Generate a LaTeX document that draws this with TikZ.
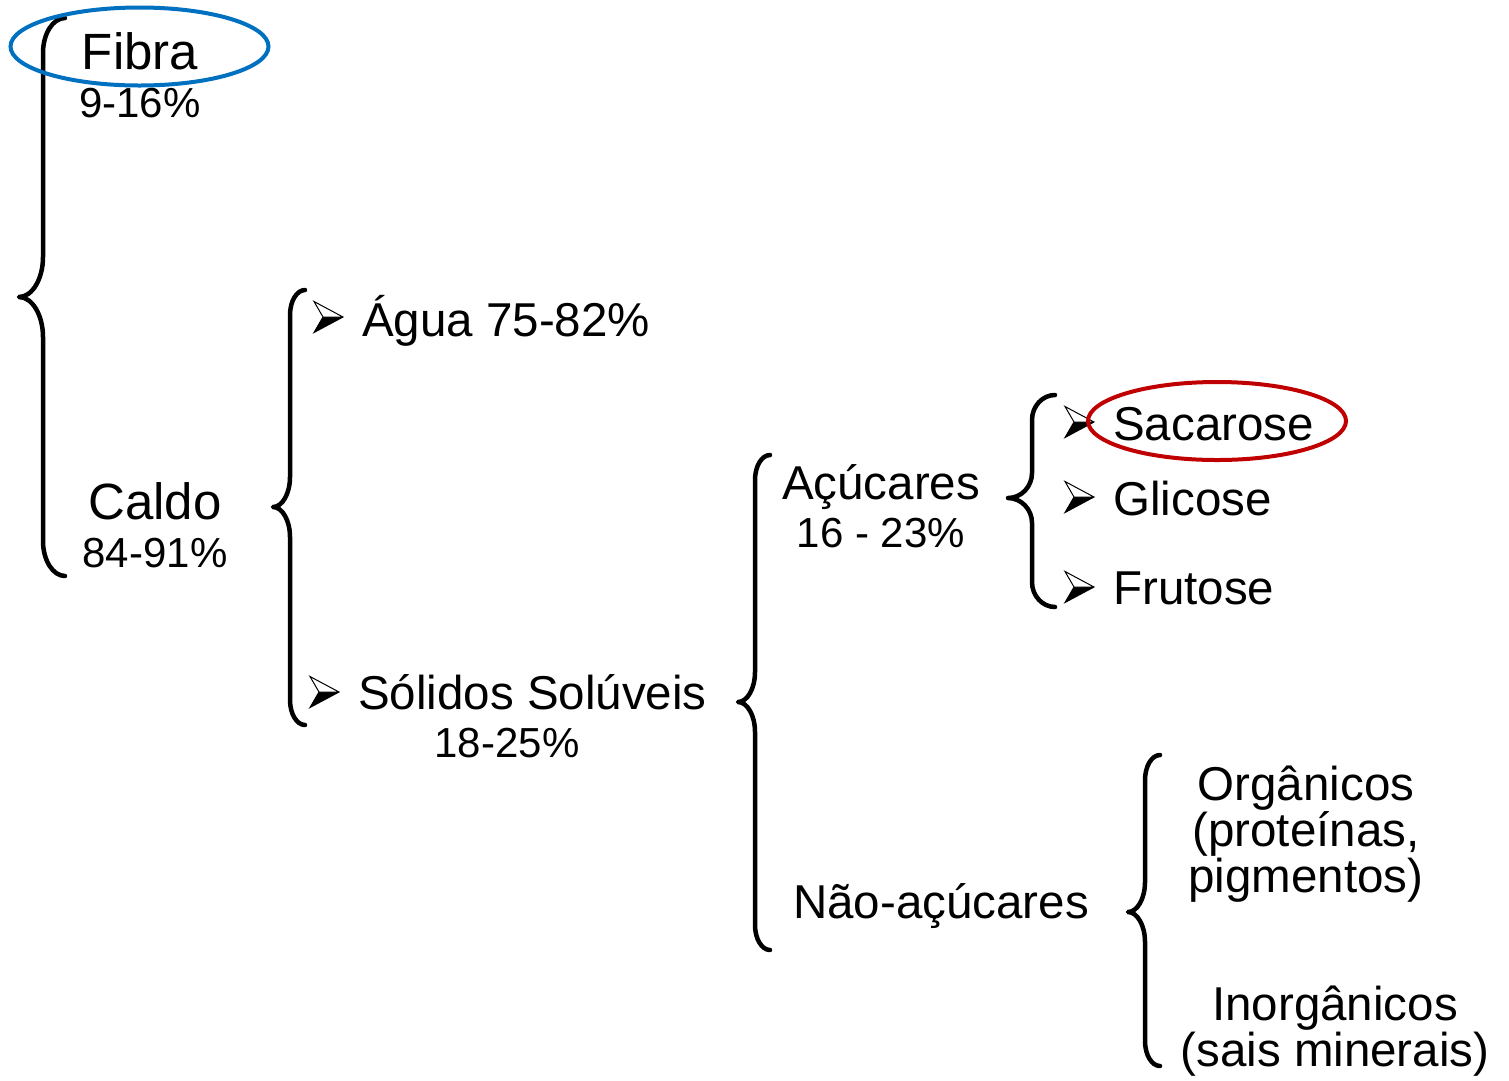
\documentclass[tikz,border=0pt]{standalone}
\usepackage{fontspec}
\setmainfont{Liberation Sans}
\begin{document}
\begin{tikzpicture}[x=1pt,y=-1pt,
  txt/.style={inner sep=0pt, font=\fontsize{47.5}{50}\selectfont},
  txtbig/.style={inner sep=0pt, font=\fontsize{51}{54}\selectfont},
  txtsm/.style={inner sep=0pt, font=\fontsize{42}{46}\selectfont},
  bracestyle/.style={line width=4.5pt, line cap=round, line join=round},
  bul/.pic={
    \fill[black] (9,0) -- (29,0) -- (0,15.5) -- cycle;
    \fill[white] (0,-15.5) -- (29,0) -- (9,0) -- cycle;
    \draw[line width=1pt, line join=miter] (0,-15.5) -- (29,0) -- (0,15.5) -- (9,0) -- cycle (9,0) -- (29,0);
  }]
\useasboundingbox (0,0) rectangle (1509,1080);
\fill[white] (0,0) rectangle (1509,1080);

% brace macro: xv xe xtip ytop ymid ybot rend rmid
\newcommand\mybrace[8]{%
  \draw[bracestyle] (#2,#4)
     .. controls ({#2-0.55*(#2-#1)},#4) and (#1,{#4+0.45*#7}) .. (#1,#4+#7)
     -- (#1,#5-#8)
     .. controls (#1,{#5-0.45*#8}) and ({#3+0.55*(#1-#3)},#5) .. (#3,#5)
     .. controls ({#3+0.55*(#1-#3)},#5) and (#1,{#5+0.45*#8}) .. (#1,#5+#8)
     -- (#1,#6-#7)
     .. controls (#1,{#6-0.45*#7}) and ({#2-0.55*(#2-#1)},#6) .. (#2,#6);}

\mybrace{43}{65}{19}{18}{297}{576}{35}{40}
\mybrace{290}{305}{273}{290}{507}{725}{25}{30}
\mybrace{755}{770}{738}{455}{702}{950}{25}{30}
\mybrace{1032}{1055}{1008}{395}{498}{607}{25}{25}
\mybrace{1145}{1160}{1128}{755}{912}{1066}{25}{30}

% texts
\node[txtbig, anchor=base] (fibra) at (140,69) {Fibra};
\node[txtsm, anchor=base] (fibrap) at (140,117) {9-16\%};
\node[txtbig, anchor=base] (caldo) at (155,519) {Caldo};
\node[txtsm, anchor=base] (caldop) at (155,567) {84-91\%};

\node[txt, anchor=base west] (agua) at (362,336) {Água 75-82\%};
\node[txt, anchor=base west] (solidos) at (358,709) {Sólidos Solúveis};
\node[txtsm, anchor=base] (solidosp) at (507,757) {18-25\%};

\node[txt, anchor=base] (acucares) at (881,499) {Açúcares};
\node[txtsm, anchor=base] (acucaresp) at (881,547) {16 - 23\%};
\node[txt, anchor=base west] (naoacucares) at (793,918) {Não-açúcares};

\node[txt, anchor=base west] (sacarose) at (1113,440) {Sacarose};
\node[txt, anchor=base west] (glicose) at (1113,515) {Glicose};
\node[txt, anchor=base west] (frutose) at (1113,604) {Frutose};

\node[inner sep=0pt, anchor=base, align=center, font=\fontsize{47.5}{46}\selectfont] (org) at (1306,892) {Orgânicos\\(proteínas,\\pigmentos)};
\node[inner sep=0pt, anchor=base, align=center, font=\fontsize{47.5}{39}\selectfont] (inorg) at (1335,1066) {Inorgânicos\\(sais minerais)};

% bullets
\pic at (314,317) {bul};
\pic at (310,692) {bul};
\pic at (1065,422) {bul};
\pic at (1065,497) {bul};
\pic at (1065,587) {bul};

% ellipses
\draw[line width=4pt, color={rgb,255:red,0;green,112;blue,192}] (139.5,46.5) ellipse [x radius=129, y radius=39];
\draw[line width=4pt, color={rgb,255:red,192;green,0;blue,0}] (1217,421) ellipse [x radius=129, y radius=39];
\end{tikzpicture}
\end{document}
